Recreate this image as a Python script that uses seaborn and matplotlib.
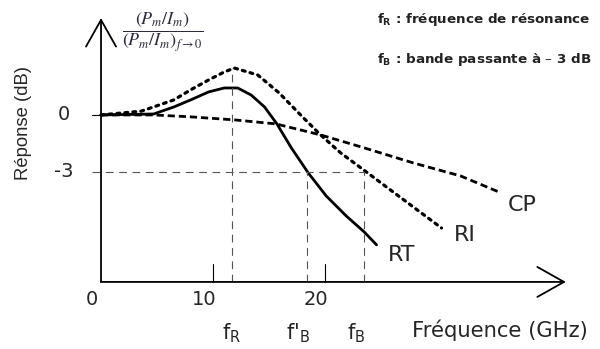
import numpy as np
import pandas as pd
import matplotlib
matplotlib.use("Agg")
import matplotlib.pyplot as plt
import seaborn as sns

# Curves: frequency (GHz) and response (dB)
rt_freq = [0, 4.7, 6.5, 8.0, 9.6, 11.0, 12.2, 13.4, 14.6, 15.7, 17.0, 18.5, 20.1, 21.9, 23.5, 24.6]
rt_db = [0, 0.05, 0.42, 0.79, 1.21, 1.42, 1.42, 1.05, 0.42, -0.47, -1.74, -3.05, -4.26, -5.32, -6.16, -6.84]

ri_freq = [0, 3.6, 6.5, 8.0, 9.6, 11.0, 11.9, 14.0, 15.9, 17.9, 19.6, 21.4, 23.8, 26.8, 30.4]
ri_db = [0, 0.2, 0.79, 1.32, 1.84, 2.26, 2.47, 2.1, 1.16, -0.05, -1.05, -2.0, -3.05, -4.37, -5.95]

cp_freq = [0, 4.7, 8.0, 11.9, 15.6, 19.6, 23.2, 27.9, 32.1, 35.7]
cp_db = [0, 0, -0.1, -0.26, -0.47, -1.05, -1.68, -2.53, -3.21, -4.1]

# marker frequencies
f_r = 11.7
f_b_prime = 18.4
f_b = 23.5
x_ticks = [0, 10, 20]
x_tick_labels = ["0", "10", "20"]
y_ticks = [0, -3]
y_tick_labels = ["0", "-3"]

sns.set_style("white")
plt.rcParams["font.family"] = ["DejaVu Sans"]

fig = plt.figure(figsize=(6, 3.49), dpi=100)
ax = fig.add_axes([0, 0, 1, 1])
ax.set_xlim(-9.02, 44.55)
ax.set_ylim(-12.32, 6.05)
ax.axis("off")

x_axis_y = -8.79

# curves
sns.lineplot(x=rt_freq, y=rt_db, ax=ax, color="black", lw=2.0, sort=False,
             solid_capstyle="round")
sns.lineplot(x=ri_freq, y=ri_db, ax=ax, color="black", lw=2.3, sort=False,
             linestyle=(0, (0.9, 1.6)), dash_capstyle="round")
sns.lineplot(x=cp_freq, y=cp_db, ax=ax, color="black", lw=2.0, sort=False,
             linestyle=(0, (2.6, 1.4)))

# axes with arrows
arrow = dict(arrowstyle="->,head_length=0.8,head_width=0.45", lw=1.3,
             color="black", mutation_scale=24, shrinkA=0, shrinkB=0)
ax.annotate("", xy=(41.5, x_axis_y), xytext=(0, x_axis_y), arrowprops=arrow)
ax.annotate("", xy=(0, 5.1), xytext=(0, x_axis_y), arrowprops=arrow)

# guide lines
guide = dict(color="#555555", lw=0.8, linestyle=(0, (7, 5)))
ax.plot([-0.8, f_b], [-3, -3], **guide)
ax.plot([f_r, f_r], [x_axis_y, max(ri_db)], **guide)
ax.plot([f_b_prime, f_b_prime], [x_axis_y, -3], **guide)
ax.plot([f_b, f_b], [x_axis_y, -3], **guide)
ax.plot([-0.8, 0], [0, 0], color="black", lw=0.8)
for t in x_ticks[1:]:
    ax.plot([t, t], [x_axis_y, x_axis_y + 0.95], color="black", lw=0.8)

# tick labels
for t, lab in zip(x_ticks, x_tick_labels):
    ax.text(t - 0.8, x_axis_y - 0.95, lab, ha="center", va="center", fontsize=14)
for t, lab in zip(y_ticks, y_tick_labels):
    ax.text(-3.3, t, lab, ha="center", va="center", fontsize=14)

ax.text(f_r, -11.5, r"$\mathregular{f_R}$", ha="center", va="center", fontsize=15)
ax.text(f_b_prime - 0.8, -11.5, r"$\mathregular{f\text{'}_B}$", ha="center", va="center", fontsize=15)
ax.text(f_b - 0.7, -11.5, r"$\mathregular{f_B}$", ha="center", va="center", fontsize=15)

# axis titles
ax.text(412 / 600, 1 - 330 / 349, "Fréquence (GHz)", transform=ax.transAxes,
        ha="left", va="center", fontsize=15.2)
ax.text(24 / 600, 1 - 123 / 349, "Réponse (dB)", transform=ax.transAxes,
        ha="center", va="center", fontsize=13.3, rotation=90,
        family="Liberation Sans")

# curve labels
ax.text(522 / 600, 1 - 205 / 349, "CP", transform=ax.transAxes, ha="center", va="center", fontsize=16)
ax.text(465 / 600, 1 - 235 / 349, "RI", transform=ax.transAxes, ha="center", va="center", fontsize=16)
ax.text(402 / 600, 1 - 255 / 349, "RT", transform=ax.transAxes, ha="center", va="center", fontsize=16)

# ratio label
ax.text(163 / 600, 1 - 32 / 349,
        r"$\dfrac{(P_m/I_m)}{(P_m/I_m)_{f\rightarrow 0}}$",
        transform=ax.transAxes, ha="center", va="center", fontsize=13,
        color="#2a2a3a", math_fontfamily="stix")

# legend notes
ax.text(377 / 600, 1 - 20 / 349, r"$\mathbf{f_R}$ : fréquence de résonance",
        transform=ax.transAxes, ha="left", va="center", fontsize=9.7, fontweight="bold",
        color="#222222")
ax.text(377 / 600, 1 - 60 / 349, r"$\mathbf{f_B}$ : bande passante à – 3 dB",
        transform=ax.transAxes, ha="left", va="center", fontsize=9.7, fontweight="bold",
        color="#222222")

fig.savefig("out.png", dpi=100)
